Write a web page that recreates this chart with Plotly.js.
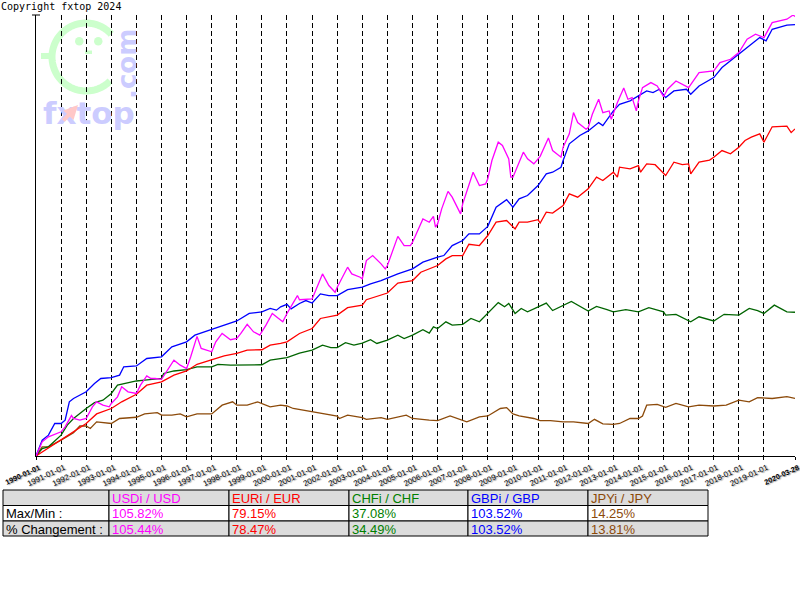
<!DOCTYPE html>
<html>
<head>
<meta charset="utf-8">
<script src="https://cdn.plot.ly/plotly-3.0.1.min.js"></script>
<style>html,body{margin:0;padding:0;background:#fff;}#chart{width:800px;height:600px;}</style>
</head>
<body>
<div id="chart"></div>
<script>
// ---------------- DATA ----------------
const seriesNames = ['USDi / USD', 'EURi / EUR', 'CHFi / CHF', 'GBPi / GBP', 'JPYi / JPY'];

const usdDates = ['1990-01-01','1990-04','1990-07',
'1991-01','1991-03','1991-06','1991-07','1991-10',
'1992-01','1992-04','1992-06','1992-09','1992-12',
'1993-01','1993-04','1993-06','1993-09',
'1994-01','1994-03','1994-06','1994-08','1994-10',
'1995-01','1995-04','1995-07','1995-10',
'1996-01','1996-03','1996-06','1996-08',
'1997-01','1997-03','1997-06','1997-10',
'1998-01','1998-03','1998-06','1998-09','1998-12',
'1999-03','1999-06','1999-09','1999-11',
'2000-01','2000-06','2000-07',
'2001-01','2001-06','2001-09','2001-12',
'2002-01','2002-06','2002-08','2002-12',
'2003-01','2003-03','2003-06','2003-10','2003-12',
'2004-01','2004-04','2004-06','2004-09','2004-12',
'2005-01','2005-06','2005-09','2005-11','2005-12',
'2006-01','2006-03','2006-06','2006-08','2006-12',
'2007-01','2007-03','2007-06','2007-09','2007-12',
'2008-01','2008-03','2008-06','2008-08','2008-11','2008-12',
'2009-01','2009-03','2009-06','2009-08','2009-11',
'2010-02','2010-06','2010-08','2010-12',
'2011-01','2011-04','2011-06','2011-08','2011-12',
'2012-01','2012-03','2012-06','2012-08','2012-11','2012-12',
'2013-03','2013-06','2013-08','2013-10','2013-12',
'2014-01','2014-03','2014-07','2014-10',
'2015-01','2015-03','2015-07',
'2016-01','2016-06',
'2017-01','2017-04','2017-09',
'2018-01','2018-05','2018-09',
'2019-01','2019-05','2019-12',
'2020-03-01','2020-03-28'];
const usdValues = [100,103.4,104.6,
105.8,107.0,109.7,109.0,108.6,
109.0,111.8,113.0,112.2,111.8,
112.6,114.2,116.6,115.4,
115.0,117.0,119.2,118.6,118.6,
118.4,120.6,123.0,121.8,
121.0,123.8,128.7,125.8,
125.0,127.4,129.4,127.9,
128.2,129.4,131.6,129.8,129.0,
131.4,134.2,133.0,132.2,
134.2,138.5,137.5,
137.7,143.7,140.9,139.3,
140.5,145.3,143.7,142.9,
142.5,146.9,148.1,146.1,144.9,
145.7,150.1,152.7,150.5,150.5,
151.3,156.9,156.1,157.5,154.9,
155.7,159.3,163.5,162.1,158.1,
160.5,163.7,168.1,164.9,165.3,
166.5,170.9,175.3,174.5,171.3,166.9,
166.9,169.3,172.9,171.3,170.1,
171.9,176.3,173.3,171.7,
174.1,177.3,182.4,180.0,178.4,
178.8,182.0,185.6,182.4,182.8,180.8,
184.8,188.3,185.6,186.0,182.8,
185.2,188.4,189.6,188.8,
186.2,188.0,190.0,
188.4,192.0,
192.4,194.4,195.2,
196.8,200.0,201.2,
200.4,204.0,204.8,
205.82,205.44];

const gbpDates = ['1990-01-01','1990-04','1990-07','1990-10',
'1991-01','1991-03','1991-05','1991-07',
'1992-01','1992-05','1992-08',
'1993-01','1993-05','1993-07',
'1994-01','1994-06',
'1995-01','1995-06',
'1996-01','1996-05',
'1997-01','1997-07',
'1998-01','1998-07',
'1999-01','1999-05','1999-08','1999-10',
'2000-01','2000-03','2000-07','2000-10',
'2001-01','2001-05','2001-09',
'2002-01','2002-06',
'2003-01','2003-05','2003-10',
'2004-01','2004-06',
'2005-01','2005-06',
'2006-01','2006-04','2006-08',
'2007-01','2007-04','2007-09',
'2008-01','2008-05','2008-10',
'2009-01','2009-04','2009-08',
'2010-01','2010-05','2010-08','2010-12',
'2011-01','2011-04','2011-09',
'2012-01','2012-06','2012-08',
'2013-01','2013-04','2013-09',
'2014-01','2014-05','2014-08','2014-11',
'2015-02','2015-06','2015-12',
'2016-02','2016-06',
'2017-01','2017-05','2017-09',
'2018-01','2018-05','2018-11',
'2019-02','2019-05','2019-12',
'2020-03-28'];
const gbpValues = [100,103.8,105.0,107.8,
107.8,108.6,113.0,113.8,
115.4,117.4,118.6,
118.8,119.4,121.4,
121.6,123.4,
123.8,126.2,
127.4,129.0,
130.4,131.4,
132.4,134.2,
134.6,135.4,135.0,135.8,
136.4,135.3,136.6,137.3,
136.7,138.9,138.5,
138.5,139.9,
140.5,141.3,142.1,
142.7,143.7,
144.9,146.5,
147.7,148.1,150.5,
151.7,153.3,153.3,
155.1,159.7,161.5,
159.7,161.7,162.5,
164.9,167.7,168.1,169.3,
170.9,174.9,176.9,
178.0,180.0,179.3,
182.8,184.4,185.2,
186.4,187.6,187.2,188.0,
186.0,187.6,188.0,
186.8,188.8,
190.8,193.2,194.8,
196.4,198.0,200.4,
199.6,202.4,203.4,
203.52];

const eurDates = ['1990-01-01','1990-06',
'1991-01','1991-06',
'1992-01','1992-06',
'1993-01','1993-06',
'1994-01','1994-06',
'1995-01','1995-07',
'1996-01','1996-06',
'1997-01','1997-07',
'1998-01','1998-06',
'1999-01','1999-05','1999-10',
'2000-01','2000-07',
'2001-01','2001-05',
'2002-01','2002-06',
'2003-01','2003-03','2003-10',
'2004-01','2004-06',
'2005-01','2005-05',
'2006-01','2006-05','2006-08',
'2007-01','2007-04','2007-09',
'2008-01','2008-05','2008-10',
'2009-02','2009-04','2009-08',
'2010-01','2010-02','2010-05','2010-08',
'2011-01','2011-04','2011-08',
'2012-01','2012-05','2012-08',
'2013-01','2013-03','2013-04','2013-09',
'2014-01','2014-02','2014-05','2014-09',
'2015-02','2015-06','2015-10',
'2016-01','2016-02','2016-06','2016-11',
'2017-01','2017-05','2017-09',
'2018-01','2018-04','2018-07','2018-11',
'2019-01','2019-05','2019-12',
'2020-02','2020-03-28'];
const eurValues = [100,101.6,
103.8,105.4,
107.8,110.1,
111.4,113.0,
114.8,117.0,
117.8,119.4,
120.4,122.0,
123.0,124.0,
124.6,125.4,
125.5,126.6,127.0,
127.4,129.4,
130.6,133.0,
133.8,135.6,
136.2,137.5,138.5,
139.1,141.5,
142.1,144.1,
145.7,147.3,148.1,
148.1,150.8,150.5,
152.9,156.1,156.5,
154.5,156.1,156.1,
156.7,155.9,158.5,158.3,
160.1,162.9,162.1,
164.1,166.9,166.1,
168.1,166.9,169.3,168.9,
169.7,168.1,170.1,169.9,
167.3,170.5,169.9,
170.1,167.7,170.5,171.0,
171.7,173.3,172.5,
174.1,175.7,176.5,177.3,
175.3,179.0,179.15,
177.6,178.47];

const chfDates = ['1990-01-01','1990-04','1990-07',
'1991-01','1991-04','1991-07',
'1992-01','1992-05','1992-09',
'1993-01','1993-04','1993-09',
'1994-01','1994-05',
'1995-01','1995-02','1995-07',
'1996-01','1996-06',
'1997-01','1997-04','1997-10',
'1998-06',
'1999-01','1999-05','1999-10',
'2000-01','2000-07',
'2001-01','2001-06','2001-10',
'2002-01','2002-05','2002-09',
'2003-01','2003-05','2003-08',
'2004-01','2004-06','2004-09',
'2005-01','2005-06','2005-09','2005-11',
'2006-01','2006-05','2006-08',
'2007-01','2007-05','2007-09',
'2008-01','2008-06','2008-09','2008-11',
'2009-02','2009-05','2009-08',
'2010-01','2010-05','2010-08',
'2011-01','2011-05',
'2012-01','2012-05','2012-10',
'2013-01','2013-07',
'2014-01','2014-06',
'2015-01','2015-02','2015-07',
'2016-02','2016-06',
'2017-01','2017-06',
'2018-01','2018-06','2018-10',
'2019-01','2019-06','2019-12',
'2020-03-28'];
const chfValues = [100,101.8,102.2,
105.0,107.4,109.0,
111.4,112.8,113.4,
115.0,117.0,117.6,
118.0,118.2,
118.6,119.8,120.4,
120.7,121.4,
121.4,122.0,121.8,
121.9,
121.9,123.0,123.4,
123.6,124.7,
125.4,126.6,126.0,
126.0,127.2,126.6,
127.1,127.9,127.0,
127.8,129.0,128.2,
129.0,130.3,129.5,131.0,
130.6,132.2,131.4,
131.6,133.0,132.2,
134.2,136.8,135.8,136.6,
134.2,135.4,134.6,
135.8,136.7,134.9,
136.2,137.08,
134.8,135.9,135.1,
134.6,135.1,
134.6,135.6,
134.6,133.8,134.0,
132.2,133.4,
132.4,134.0,
133.8,135.4,134.9,
134.2,136.2,134.6,
134.49];

const jpyDates = ['1990-01-01','1990-04','1990-07',
'1991-01','1991-07','1991-10',
'1992-01','1992-03','1992-06',
'1993-01','1993-05',
'1994-01','1994-05','1994-11',
'1995-01','1995-06','1995-10',
'1996-01','1996-06',
'1997-01','1997-06','1997-11',
'1998-01','1998-06','1998-11',
'1999-01','1999-05','1999-10',
'2000-01','2000-04',
'2001-01','2001-06',
'2002-01','2002-02','2002-06',
'2003-01','2003-03','2003-10',
'2004-01','2004-10',
'2005-01','2005-09',
'2006-01','2006-07',
'2007-01','2007-03','2007-09',
'2008-01','2008-07','2008-10',
'2009-01','2009-04','2009-11',
'2010-02','2010-07',
'2011-01','2011-06',
'2012-01','2012-04','2012-08',
'2013-01','2013-04','2013-09',
'2014-01','2014-03','2014-05','2014-10',
'2015-02','2015-07',
'2016-01','2016-06',
'2017-01','2017-07',
'2018-01','2018-06','2018-10',
'2019-05','2019-12',
'2020-03-28'];
const jpyValues = [100,102.2,102.2,
103.8,105.6,107.2,
107.2,106.6,108.2,
107.8,109.0,
109.3,110.1,110.4,
109.8,109.8,110.1,
109.4,110.1,
110.1,112.2,113.0,
112.2,112.2,113.0,
112.6,111.8,112.2,
112.0,111.4,
110.6,110.2,
109.6,109.0,109.8,
109.2,108.8,109.2,
108.8,109.8,
109.0,108.6,
108.5,109.6,
108.6,108.2,109.4,
109.6,111.4,111.6,
110.1,109.6,109.0,
108.5,108.5,
108.2,108.2,
107.8,108.8,107.7,
107.6,107.8,109.0,
109.0,109.6,112.2,112.4,
111.7,112.6,
111.8,112.2,
112.0,112.2,
113.4,113.0,114.0,
113.8,114.25,
113.81];

const tickDates = ['1990-01-01','1991-01-01','1992-01-01','1993-01-01','1994-01-01','1995-01-01',
'1996-01-01','1997-01-01','1998-01-01','1999-01-01','2000-01-01','2001-01-01','2002-01-01',
'2003-01-01','2004-01-01','2005-01-01','2006-01-01','2007-01-01','2008-01-01','2009-01-01',
'2010-01-01','2011-01-01','2012-01-01','2013-01-01','2014-01-01','2015-01-01','2016-01-01',
'2017-01-01','2018-01-01','2019-01-01','2020-03-28'];

const tableHeader = ['', 'USDi / USD', 'EURi / EUR', 'CHFi / CHF', 'GBPi / GBP', 'JPYi / JPY'];
const maxMinRow = ['Max/Min :', '105.82%', '79.15%', '37.08%', '103.52%', '14.25%'];
const changeRow = ['% Changement :', '105.44%', '78.47%', '34.49%', '103.52%', '13.81%'];

// ---------------- STYLE ----------------
const W = 800, H = 600;
const PX = x => x / W;
const PY = y => 1 - y / H;
const lineColors = {usd:'#ff00ff', eur:'#ff0000', chf:'#006400', gbp:'#0000ff', jpy:'#8c4a0a'};
const textColors = ['#000000', '#ff00ff', '#ff0000', '#008000', '#0000ff', '#8c4a0a'];
const font = 'Liberation Sans, Arial, sans-serif';

function tr(x, y, c, name) {
  return {x: x, y: y, type: 'scatter', mode: 'lines', name: name,
          line: {color: c, width: 1.3}, hoverinfo: 'skip', showlegend: false};
}
const data = [
  tr(jpyDates, jpyValues, lineColors.jpy, seriesNames[4]),
  tr(chfDates, chfValues, lineColors.chf, seriesNames[2]),
  tr(eurDates, eurValues, lineColors.eur, seriesNames[1]),
  tr(gbpDates, gbpValues, lineColors.gbp, seriesNames[3]),
  tr(usdDates, usdValues, lineColors.usd, seriesNames[0])
];

const tickText = tickDates.map((d, i) => (i === 0 || i === tickDates.length - 1)
  ? '<b><span style="font-size:7.3px">' + d + '</span></b>' : d);

const shapes = [];
const annotations = [];

// --- watermark logo (decorative) ---
const green = '#ccffcc', lav = '#ccccff';
(function() {
  const cx = 86, cy = 57, r = 34;
  let p = '';
  for (let a = 45; a <= 318; a += 3) {
    const t = a * Math.PI / 180;
    const x = cx + r * Math.cos(t), y = cy + r * Math.sin(t);
    p += (p ? ' L' : 'M') + PX(x).toFixed(5) + ',' + PY(y).toFixed(5);
  }
  shapes.push({type:'path', xref:'paper', yref:'paper', path:p, layer:'below',
               line:{color:green, width:7}});
})();
shapes.push({type:'rect', xref:'paper', yref:'paper', x0:PX(41), x1:PX(51), y0:PY(59), y1:PY(53),
             fillcolor:green, line:{width:0}, layer:'below'});
shapes.push({type:'circle', xref:'paper', yref:'paper', x0:PX(75), x1:PX(83.5), y0:PY(45.5), y1:PY(37),
             fillcolor:green, line:{width:0}, layer:'below'});
shapes.push({type:'circle', xref:'paper', yref:'paper', x0:PX(94), x1:PX(102.5), y0:PY(45.5), y1:PY(37),
             fillcolor:green, line:{width:0}, layer:'below'});
shapes.push({type:'rect', xref:'paper', yref:'paper', x0:PX(85), x1:PX(92), y0:PY(54), y1:PY(50.5),
             fillcolor:green, line:{width:0}, layer:'below'});
annotations.push({xref:'paper', yref:'paper', x:PX(89), y:PY(113), text:'fxtop', showarrow:false,
                  xanchor:'center', yanchor:'middle', borderpad:0,
                  font:{family:'DejaVu Sans', size:31, color:lav, weight:'bold'}});
annotations.push({xref:'paper', yref:'paper', x:PX(127), y:PY(64), text:'.com', showarrow:false,
                  textangle:-90, xanchor:'center', yanchor:'middle', borderpad:0,
                  font:{family:'DejaVu Sans', size:26, color:lav, weight:'bold'}});
annotations.push({xref:'paper', yref:'paper', x:PX(78), y:PY(105), text:'', showarrow:true,
                  ax:-16, ay:17, arrowcolor:'#ffc8c8', arrowwidth:4, arrowhead:2, arrowsize:0.7, standoff:0});

// copyright
annotations.push({xref:'paper', yref:'paper', x:0, y:1, xanchor:'left', yanchor:'top',
                  text:'Copyright fxtop 2024', showarrow:false, borderpad:0,
                  font:{family:'DejaVu Sans Mono, Liberation Mono, monospace', size:10, color:'#000'}});

// y-axis top cap
shapes.push({type:'line', xref:'paper', yref:'paper', x0:PX(32), x1:PX(40), y0:PY(15), y1:PY(15),
             line:{color:'#000', width:1}});

// --- summary table ---
const colEdges = [3, 109, 229, 349, 468, 588, 708];
const rowEdges = [490, 505.5, 521, 536];
const rowFills = ['#dcdcdc', '#ffffff', '#dcdcdc'];
const tableRows = [tableHeader, maxMinRow, changeRow];
tableRows.forEach((row, r) => {
  row.forEach((txt, c) => {
    shapes.push({type:'rect', xref:'paper', yref:'paper',
                 x0:PX(colEdges[c]), x1:PX(colEdges[c+1]), y0:PY(rowEdges[r+1]), y1:PY(rowEdges[r]),
                 fillcolor:rowFills[r], line:{color:'#000', width:1}});
    if (txt) annotations.push({xref:'paper', yref:'paper', x:PX(colEdges[c] + 1.5),
                 y:PY((rowEdges[r] + rowEdges[r+1]) / 2 + 0.5), xanchor:'left', yanchor:'middle',
                 text:txt, showarrow:false, borderpad:0,
                 font:{family:font, size:13, color:textColors[c]}});
  });
});

const layout = {
  width: W, height: H,
  margin: {l:0, r:0, t:0, b:0, pad:0},
  paper_bgcolor: '#ffffff', plot_bgcolor: 'rgba(0,0,0,0)',
  showlegend: false,
  xaxis: {
    type:'date', domain:[PX(36), PX(795)], range:['1990-01-01', '2020-03-28'],
    tickmode:'array', tickvals:tickDates, ticktext:tickText, tickangle:-25,
    ticklabeloverflow:'allow', ticklabelshift:3,
    tickfont:{family:font, size:8, color:'#000', shadow:'1px 1px 1px #999'},
    ticks:'outside', ticklen:3, tickwidth:1, tickcolor:'#000',
    showline:true, linecolor:'#000', linewidth:1,
    showgrid:true, gridcolor:'#000', gridwidth:1, griddash:'5px,3px',
    zeroline:false, fixedrange:true
  },
  yaxis: {
    domain:[PY(456), PY(15)], range:[100, 205.82],
    showline:true, linecolor:'#000', linewidth:1,
    showticklabels:false, ticks:'', showgrid:false, zeroline:false, fixedrange:true
  },
  shapes: shapes,
  annotations: annotations
};

Plotly.newPlot('chart', data, layout, {displayModeBar:false, staticPlot:true});
</script>
</body>
</html>
